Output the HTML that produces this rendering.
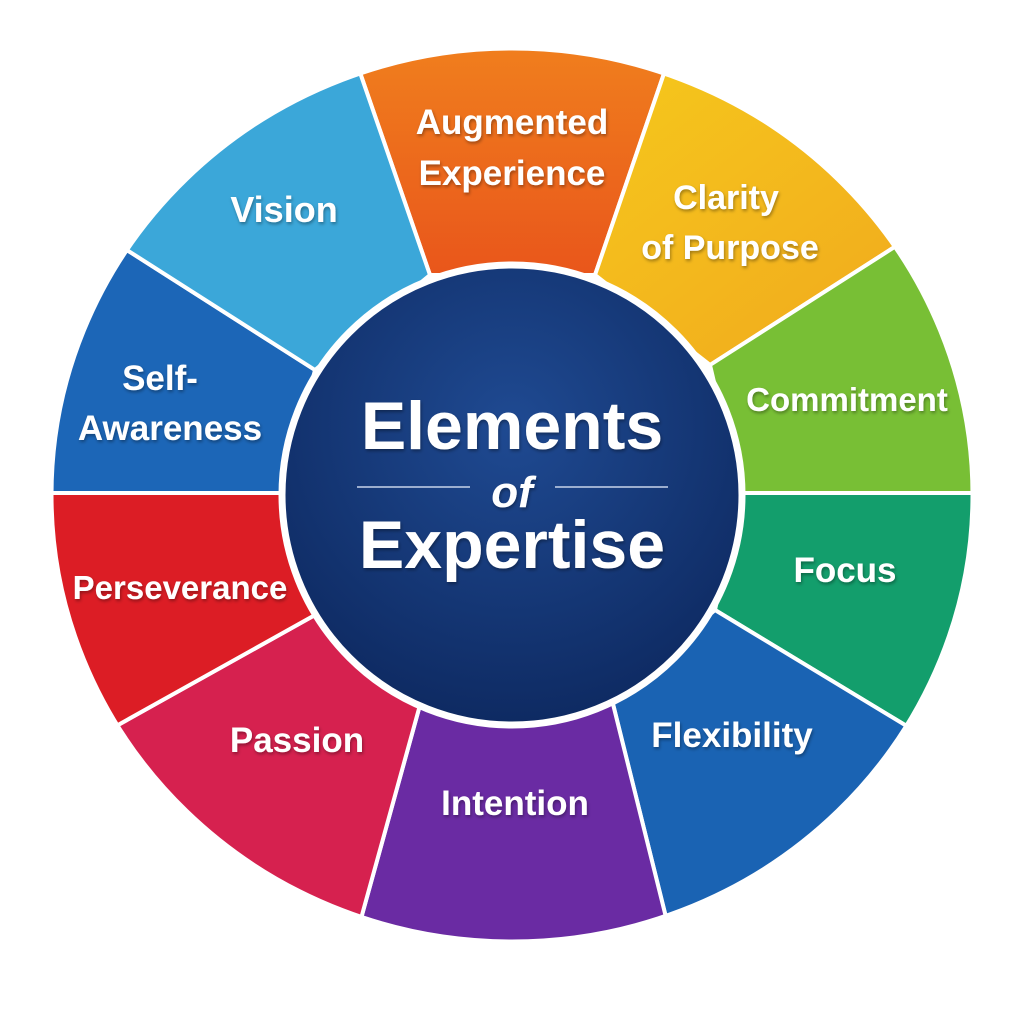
<!DOCTYPE html>
<html><head><meta charset="utf-8"><style>
html,body{margin:0;padding:0;background:#fff;}
svg{display:block;}
text{font-family:"Liberation Sans",sans-serif;font-weight:bold;fill:#fff;text-anchor:middle;}
</style></head><body>
<svg width="1024" height="1024" viewBox="0 0 1024 1024" xmlns="http://www.w3.org/2000/svg">
<defs>
<clipPath id="c"><ellipse cx="512" cy="495" rx="460" ry="446"/></clipPath>
<radialGradient id="ctr" cx="50%" cy="35%" r="65%"><stop offset="0" stop-color="#1f4a92"/><stop offset="1" stop-color="#0e2a62"/></radialGradient>
<linearGradient id="og" x1="0" y1="0" x2="0" y2="1"><stop offset="0" stop-color="#f28a1e"/><stop offset="1" stop-color="#e9561b"/></linearGradient>
<linearGradient id="yg" x1="0" y1="0" x2="1" y2="1"><stop offset="0" stop-color="#f6cd1c"/><stop offset="1" stop-color="#f0a01e"/></linearGradient>
<filter id="sh"><feDropShadow dx="1" dy="2" stdDeviation="1.5" flood-color="#000" flood-opacity="0.35"/></filter>
</defs>
<g clip-path="url(#c)" stroke="#fff" stroke-width="4" stroke-linejoin="round">
<polygon fill="url(#og)" points="430,275 328,-20 696,-20 595,275"/>
<polygon fill="url(#yg)" points="595,275 696,-20 1100,-20 1076,131 710,365"/>
<polygon fill="#78bf35" points="710,365 1076,131 1100,131 1100,493 740,493"/>
<polygon fill="#139e6c" points="740,493 1100,493 1100,840 1095,840 715,610"/>
<polygon fill="#1a63b3" points="715,610 1095,840 1100,1030 692,1022 612,700"/>
<polygon fill="#6a2ba3" points="612,700 692,1022 333,1020 420,705"/>
<polygon fill="#d6214f" points="420,705 333,1020 -80,1030 -79,835 315,615"/>
<polygon fill="#dc1d25" points="315,615 -79,835 -100,835 -100,493 284,493"/>
<polygon fill="#1c66b7" points="284,493 -100,493 -100,134 -55,134 315,370"/>
<polygon fill="#3ba7d9" points="315,370 -55,134 -60,-20 328,-20 430,275"/>
</g>
<ellipse cx="512" cy="495" rx="460" ry="446" fill="none" stroke="#fff" stroke-width="3"/>
<circle cx="512" cy="495" r="230" fill="url(#ctr)" stroke="#fff" stroke-width="7"/>
<g filter="url(#sh)">
<text x="512" y="134" font-size="35">Augmented</text>
<text x="512" y="185" font-size="35">Experience</text>
<text x="726" y="209" font-size="34">Clarity</text>
<text x="730" y="259" font-size="34">of Purpose</text>
<text x="847" y="411" font-size="33">Commitment</text>
<text x="845" y="582" font-size="35">Focus</text>
<text x="732" y="747" font-size="35">Flexibility</text>
<text x="515" y="815" font-size="35">Intention</text>
<text x="297" y="752" font-size="35">Passion</text>
<text x="180" y="599" font-size="33">Perseverance</text>
<text x="160" y="390" font-size="35">Self-</text>
<text x="170" y="440" font-size="35">Awareness</text>
<text x="284" y="222" font-size="36">Vision</text>
<text x="512" y="449" font-size="68">Elements</text>
<text x="512" y="507" font-size="44" font-style="italic" font-family="Liberation Serif,serif">of</text>
<text x="512" y="568" font-size="68">Expertise</text>
</g>
<line x1="357" y1="487" x2="470" y2="487" stroke="#c8d4ea" stroke-width="1.5"/>
<line x1="555" y1="487" x2="668" y2="487" stroke="#c8d4ea" stroke-width="1.5"/>
</svg>
</body></html>
